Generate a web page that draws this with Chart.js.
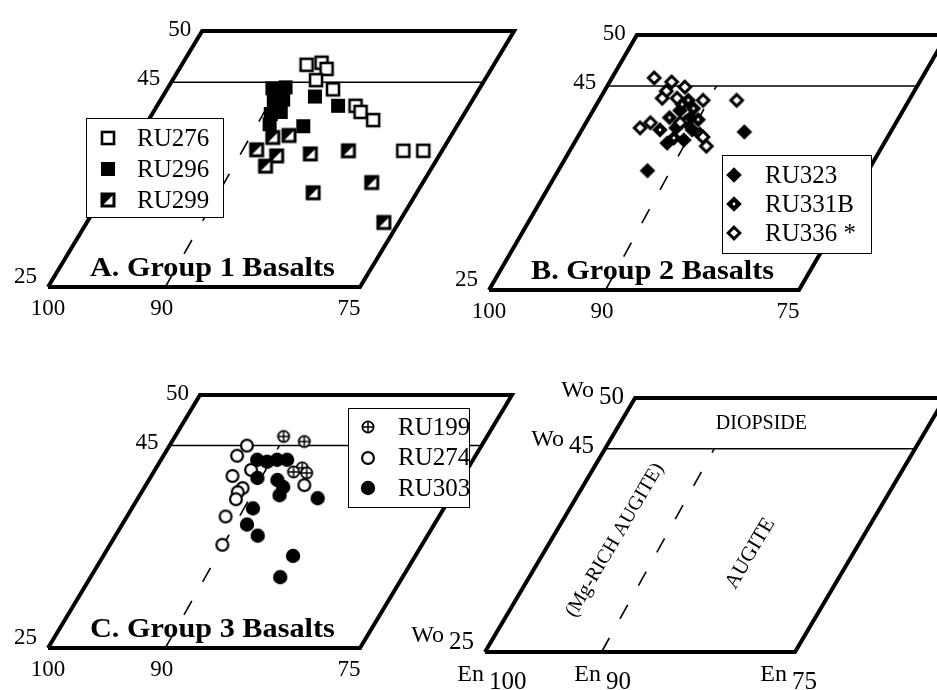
<!DOCTYPE html>
<html>
<head>
<meta charset="utf-8">
<title>Pyroxene quadrilaterals</title>
<script src="https://cdn.jsdelivr.net/npm/chart.js"></script>
<style>
  html, body { margin: 0; padding: 0; background: #fff; overflow: hidden; }
  #wrap { position: relative; width: 937px; height: 690px; overflow: hidden; background: #fff; }
  #wrap canvas { position: absolute; left: 0; top: 0; }
</style>
</head>
<body>
<div id="wrap">
  <canvas id="panelD" width="1000" height="690"></canvas>
  <canvas id="panelC" width="1000" height="690"></canvas>
  <canvas id="panelB" width="1000" height="690"></canvas>
  <canvas id="panelA" width="1000" height="690"></canvas>
</div>
<script>
// tick labels
var mgTicks = [100, 90, 75];
var woTicks = [50, 45, 25];

// quadrilateral outline and field boundaries (Mg#, Wo)
var frameMg = [100, 75, 75, 100, 100];
var frameWo = [25, 25, 50, 50, 25];
var diopsideMg = [100, 75];
var diopsideWo = [45, 45];
var augiteMg = [90.6, 91.2];
var augiteWo = [25, 45];

// A. Group 1 basalts
var ru276Mg = [90.0, 88.9, 88.2, 88.5, 86.7, 84.1, 83.4, 82.0, 78.1, 76.5];
var ru276Wo = [46.7, 46.9, 46.3, 45.2, 44.3, 42.7, 42.1, 41.3, 38.3, 38.3];
var ru296Mg = [91.6, 90.6, 90.9, 90.2, 90.5, 89.8, 90.1, 87.8, 85.5, 87.3];
var ru296Wo = [44.4, 44.5, 43.2, 43.3, 41.9, 42.1, 40.9, 43.6, 42.7, 40.7];
var ru299Mg = [89.9, 89.2, 88.0, 88.0, 88.4, 85.4, 82.5, 79.1, 83.3, 76.2];
var ru299Wo = [38.4, 39.6, 39.8, 37.8, 36.8, 38.0, 38.3, 35.2, 34.2, 31.3];

// B. Group 2 basalts
var ru323Mg = [86.8, 92.8, 92.5, 93.0, 91.8, 92.5, 91.1, 91.3];
var ru323Wo = [40.5, 36.7, 39.4, 42.6, 41.9, 40.9, 40.7, 39.7];
var ru331bMg = [93.1, 92.0, 93.5, 92.0, 93.7, 91.1, 92.2, 90.3, 92.8];
var ru331bWo = [43.2, 42.8, 41.9, 41.5, 40.7, 41.7, 39.9, 40.3, 43.6];
var ru336Mg = [96.6, 95.0, 93.7, 95.0, 95.0, 93.8, 91.6, 88.9, 94.8, 95.4, 92.4, 89.9, 89.2];
var ru336Wo = [45.8, 45.4, 44.9, 44.5, 43.8, 43.8, 43.6, 43.6, 41.4, 40.9, 41.4, 40.0, 39.1];

// C. Group 3 basalts
var ru199Mg = [91.3, 89.4, 88.3, 88.8, 87.7];
var ru199Wo = [45.9, 45.4, 42.8, 42.4, 42.3];
var ru274Mg = [93.8, 94.1, 92.3, 93.5, 92.1, 92.3, 92.1, 92.1, 91.0, 87.3];
var ru274Wo = [45.0, 44.0, 42.6, 42.0, 40.8, 40.4, 39.7, 38.0, 35.2, 41.1];
var ru303Mg = [92.3, 91.4, 90.7, 89.9, 91.4, 89.7, 88.9, 88.8, 85.6, 90.3, 90.0, 88.6, 84.8, 84.8];
var ru303Wo = [43.6, 43.4, 43.6, 43.6, 41.8, 41.6, 40.9, 40.1, 39.8, 38.8, 37.2, 36.1, 34.1, 32.0];

var CW = 1000, CH = 690;
var SERIF = '"Liberation Serif", "Times New Roman", serif';

// small marker images used as point styles and in the legends
function marker(kind) {
  var c = document.createElement('canvas');
  c.width = 18; c.height = 18;
  var g = c.getContext('2d');
  g.fillStyle = '#fff';
  g.strokeStyle = '#000';
  function diamond(r) {
    g.beginPath();
    g.moveTo(9, 9 - r); g.lineTo(9 + r, 9); g.lineTo(9, 9 + r); g.lineTo(9 - r, 9);
    g.closePath();
  }
  if (kind === 'openSquare') {
    g.fillRect(3, 3, 12, 12);
    g.lineWidth = 2.6; g.strokeRect(3, 3, 12, 12);
  } else if (kind === 'square') {
    g.fillStyle = '#000'; g.fillRect(2, 2, 14, 14);
  } else if (kind === 'halfSquare') {
    g.fillRect(3, 3, 12, 12);
    g.fillStyle = '#000';
    g.beginPath(); g.moveTo(3, 3); g.lineTo(15, 3); g.lineTo(3, 15); g.closePath(); g.fill();
    g.lineWidth = 3; g.strokeRect(3, 3, 12, 12);
  } else if (kind === 'diamond') {
    g.fillStyle = '#000'; diamond(7.8); g.fill();
  } else if (kind === 'dotDiamond') {
    g.fillStyle = '#000'; diamond(7.8); g.fill();
    g.fillStyle = '#fff'; g.beginPath(); g.arc(9, 9, 1.4, 0, Math.PI * 2); g.fill();
  } else if (kind === 'openDiamond') {
    diamond(5.8); g.fill(); g.lineWidth = 3; g.stroke();
  } else if (kind === 'plusCircle') {
    g.beginPath(); g.arc(9, 9, 5.6, 0, Math.PI * 2); g.fill();
    g.lineWidth = 1.8; g.stroke();
    g.lineWidth = 1.5; g.beginPath();
    g.moveTo(3.2, 9); g.lineTo(14.8, 9); g.moveTo(9, 3.2); g.lineTo(9, 14.8); g.stroke();
  } else if (kind === 'openCircle') {
    g.beginPath(); g.arc(9, 9, 5.9, 0, Math.PI * 2); g.fill();
    g.lineWidth = 2.2; g.stroke();
  } else if (kind === 'circle') {
    g.fillStyle = '#000'; g.beginPath(); g.arc(9, 9, 7.2, 0, Math.PI * 2); g.fill();
  }
  return c;
}

var panels = [
  { id: 'panelA', left: 48, top: 31, bottom: 287, s: 12.48, k: 0.494, title: 'A. Group 1 Basalts',
    legend: { x: 86, y: 118, w: 137, h: 99, symX: 22, textX: 51, row0: 20, rowH: 31 },
    series: [['RU276', ru276Mg, ru276Wo, 'openSquare'],
             ['RU296', ru296Mg, ru296Wo, 'square'],
             ['RU299', ru299Mg, ru299Wo, 'halfSquare']] },
  { id: 'panelB', left: 489, top: 35, bottom: 290, s: 12.4, k: 0.477, title: 'B. Group 2 Basalts',
    legend: { x: 722, y: 155, w: 149, h: 98, symX: 12, textX: 43, row0: 20, rowH: 29 },
    series: [['RU323', ru323Mg, ru323Wo, 'diamond'],
             ['RU331B', ru331bMg, ru331bWo, 'dotDiamond'],
             ['RU336 *', ru336Mg, ru336Wo, 'openDiamond']] },
  { id: 'panelC', left: 48, top: 395, bottom: 648, s: 12.48, k: 0.487, title: 'C. Group 3 Basalts',
    legend: { x: 348, y: 408, w: 121, h: 99, symX: 20, textX: 50, row0: 19, rowH: 30.5 },
    series: [['RU199', ru199Mg, ru199Wo, 'plusCircle'],
             ['RU274', ru274Mg, ru274Wo, 'openCircle'],
             ['RU303', ru303Mg, ru303Wo, 'circle']] },
  { id: 'panelD', left: 485, top: 398, bottom: 652, s: 12.4, k: 0.484, prefixed: true,
    fields: [['DIOPSIDE', 88.6, 47.5, false, 20],
             ['(Mg-RICH AUGITE)', 94.85, 36.0, true, 20],
             ['AUGITE', 83.3, 34.7, true, 21]],
    series: [] }
];

// sheared quadrilateral: x runs along the Wo = 25 edge, lines of equal Mg# lean right
function toXY(mg, wo, k) {
  return mg.map(function (m, i) { return { x: 100 - m + k * (wo[i] - 25), y: wo[i] }; });
}

function textPlugin(p) {
  return {
    id: 'panelText',
    afterDraw: function (chart) {
      var ctx = chart.ctx, xs = chart.scales.x, ys = chart.scales.y;
      function px(mg, wo) { return xs.getPixelForValue(100 - mg + p.k * (wo - 25)); }
      function py(wo) { return ys.getPixelForValue(wo); }
      ctx.save();
      ctx.fillStyle = '#000';

      // Wo labels along the left edge
      woTicks.forEach(function (wo) {
        var x = px(100, wo) - 11, y = py(wo) - 1 - (50 - wo) * 0.36;
        ctx.textBaseline = 'middle';
        ctx.textAlign = 'right';
        if (p.prefixed) {
          ctx.font = '25px ' + SERIF;
          ctx.fillText(String(wo), x, y);
          var w = ctx.measureText(String(wo)).width;
          ctx.font = '24px ' + SERIF;
          ctx.fillText('Wo', x - w - 5, y - 6);
        } else {
          ctx.font = '23px ' + SERIF;
          ctx.fillText(String(wo), x, y);
        }
      });

      // Mg# labels under the bottom edge
      mgTicks.forEach(function (mg) {
        var x = px(mg, 25), y0 = py(25);
        ctx.textBaseline = 'middle';
        if (p.prefixed) {
          var nx = x + (mg === 100 ? 4 : -3);
          ctx.font = '25px ' + SERIF;
          ctx.textAlign = 'left';
          ctx.fillText(String(mg), nx, y0 + 30);
          ctx.font = '24px ' + SERIF;
          ctx.textAlign = 'right';
          ctx.fillText('En', nx - 5, y0 + 23);
        } else {
          ctx.font = '23px ' + SERIF;
          ctx.textAlign = 'center';
          ctx.fillText(String(mg), x + (mg === 100 ? 0 : -11), y0 + 22);
        }
      });

      // field names
      if (p.fields) {
        var ang = Math.atan2(py(50) - py(25), px(100, 50) - px(100, 25));
        p.fields.forEach(function (f) {
          ctx.save();
          ctx.translate(px(f[1], f[2]), py(f[2]));
          if (f[3]) ctx.rotate(ang);
          ctx.font = f[4] + 'px ' + SERIF;
          ctx.textAlign = 'center';
          ctx.textBaseline = 'middle';
          ctx.fillText(f[0], 0, 0);
          ctx.restore();
        });
      }

      // panel title (the printed face runs a little wide)
      if (p.title) {
        ctx.save();
        ctx.font = 'bold 28px ' + SERIF;
        ctx.textAlign = 'left';
        ctx.textBaseline = 'alphabetic';
        ctx.translate(px(100, 25) + 42, py(25) - 11);
        ctx.scale(1.08, 1);
        ctx.fillText(p.title, 0, 0);
        ctx.restore();
      }

      // legend box
      if (p.legend) {
        var L = p.legend;
        ctx.fillStyle = '#fff';
        ctx.fillRect(L.x, L.y, L.w, L.h);
        ctx.strokeStyle = '#000';
        ctx.lineWidth = 1;
        ctx.strokeRect(L.x + 0.5, L.y + 0.5, L.w, L.h);
        ctx.fillStyle = '#000';
        ctx.font = '25px ' + SERIF;
        ctx.textAlign = 'left';
        ctx.textBaseline = 'middle';
        chart.data.datasets.forEach(function (ds) {
          if (ds.legendRow === undefined) return;
          var y = L.y + L.row0 + ds.legendRow * L.rowH;
          var img = ds.pointStyle;
          ctx.drawImage(img, Math.round(L.x + L.symX - img.width / 2), Math.round(y - img.height / 2));
          ctx.fillText(ds.label, L.x + L.textX, y + 1);
        });
      }
      ctx.restore();
    }
  };
}

panels.forEach(function (p) {
  var datasets = [];
  p.series.forEach(function (s, i) {
    datasets.push({
      label: s[0],
      data: toXY(s[1], s[2], p.k),
      pointStyle: marker(s[3]),
      pointRadius: 7,
      legendRow: i,
      clip: false,
      order: 3 - i
    });
  });
  datasets.push({
    label: 'frame', data: toXY(frameMg, frameWo, p.k), showLine: true,
    borderColor: '#000', borderWidth: 4, borderJoinStyle: 'miter', pointRadius: 0, clip: false, order: 10
  });
  datasets.push({
    label: 'diopside', data: toXY(diopsideMg, diopsideWo, p.k), showLine: true,
    borderColor: '#000', borderWidth: 1.5, pointRadius: 0, clip: false, order: 11
  });
  datasets.push({
    label: 'augite', data: toXY(augiteMg, augiteWo, p.k), showLine: true,
    borderColor: '#000', borderWidth: 1.6, borderDash: [16, 22], pointRadius: 0, clip: false, order: 12
  });

  new Chart(document.getElementById(p.id), {
    type: 'scatter',
    data: { datasets: datasets },
    options: {
      responsive: false,
      animation: false,
      devicePixelRatio: 1,
      events: [],
      layout: { padding: { left: p.left, top: p.top, right: CW - p.left - 40 * p.s, bottom: CH - p.bottom } },
      scales: {
        x: { type: 'linear', min: 0, max: 40, display: false },
        y: { type: 'linear', min: 25, max: 50, display: false }
      },
      plugins: { legend: { display: false }, tooltip: { enabled: false } }
    },
    plugins: [textPlugin(p)]
  });
});
</script>
</body>
</html>
